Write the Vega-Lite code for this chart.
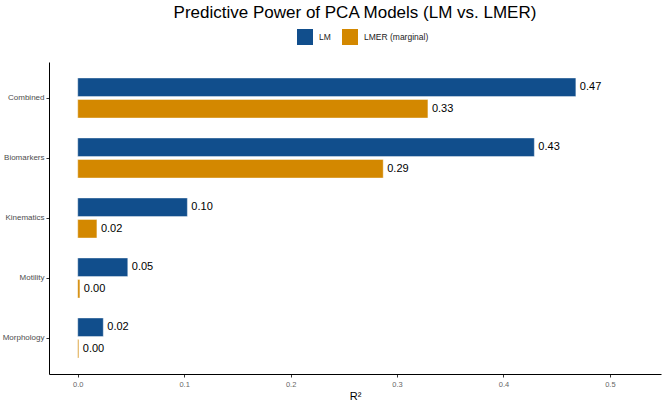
{
  "$schema": "https://vega.github.io/schema/vega-lite/v6.json",
  "autosize": "none",
  "width": 612,
  "height": 312,
  "padding": {"left": 49, "top": 62, "right": 5, "bottom": 27},
  "background": "white",
  "title": {
    "text": "Predictive Power of PCA Models (LM vs. LMER)",
    "font": "Liberation Sans",
    "fontSize": 17,
    "fontWeight": "normal",
    "color": "#000000",
    "anchor": "middle",
    "frame": "group",
    "orient": "top",
    "offset": 7
  },
  "config": {
    "view": {"stroke": null},
    "font": "Liberation Sans"
  },
  "data": {
    "values": [
      {"category": "Combined", "model": "LM", "r2": 0.468},
      {"category": "Combined", "model": "LMER (marginal)", "r2": 0.329},
      {"category": "Biomarkers", "model": "LM", "r2": 0.429},
      {"category": "Biomarkers", "model": "LMER (marginal)", "r2": 0.287},
      {"category": "Kinematics", "model": "LM", "r2": 0.103},
      {"category": "Kinematics", "model": "LMER (marginal)", "r2": 0.018},
      {"category": "Motility", "model": "LM", "r2": 0.047},
      {"category": "Motility", "model": "LMER (marginal)", "r2": 0.002},
      {"category": "Morphology", "model": "LM", "r2": 0.024},
      {"category": "Morphology", "model": "LMER (marginal)", "r2": 0.001}
    ]
  },
  "encoding": {
    "y": {
      "field": "category",
      "type": "nominal",
      "sort": ["Combined", "Biomarkers", "Kinematics", "Motility", "Morphology"],
      "scale": {"paddingInner": 0, "paddingOuter": 0.1},
      "axis": {
        "title": null,
        "domainColor": "#000000",
        "domainWidth": 1,
        "tickColor": "#333333",
        "tickSize": 3,
        "labelColor": "#4d4d4d",
        "labelFontSize": 8,
        "labelPadding": 2
      }
    },
    "yOffset": {
      "field": "model",
      "type": "nominal",
      "sort": ["LM", "LMER (marginal)"],
      "scale": {"paddingInner": 0.14, "paddingOuter": 0.465}
    },
    "x": {
      "field": "r2",
      "type": "quantitative",
      "scale": {"domain": [-0.027, 0.548], "nice": false, "zero": false},
      "axis": {
        "title": "R²",
        "titleFontSize": 11,
        "titleFontWeight": "normal",
        "titleColor": "#000000",
        "titlePadding": 3,
        "values": [0, 0.1, 0.2, 0.3, 0.4, 0.5],
        "format": ".1f",
        "grid": false,
        "domainColor": "#000000",
        "domainWidth": 1,
        "tickColor": "#333333",
        "tickSize": 3,
        "labelColor": "#666666",
        "labelFontSize": 7.5,
        "labelPadding": 3
      }
    }
  },
  "layer": [
    {
      "mark": {"type": "bar", "stroke": "white", "strokeWidth": 0.4},
      "encoding": {
        "x2": {"datum": 0},
        "color": {
          "field": "model",
          "type": "nominal",
          "scale": {"domain": ["LM", "LMER (marginal)"], "range": ["#114E8C", "#D38800"]},
          "legend": {
            "title": null,
            "orient": "none",
            "legendX": 248,
            "legendY": -33,
            "direction": "horizontal",
            "symbolType": "square",
            "symbolSize": 256,
            "symbolStrokeWidth": 0,
            "labelFontSize": 8.5,
            "labelColor": "#222222",
            "labelOffset": 6,
            "columnPadding": 11,
            "padding": 0
          }
        }
      }
    },
    {
      "mark": {"type": "text", "align": "left", "baseline": "middle", "dx": 4, "fontSize": 11, "color": "#000000"},
      "encoding": {
        "text": {"field": "r2", "type": "quantitative", "format": ".2f"}
      }
    }
  ]
}
